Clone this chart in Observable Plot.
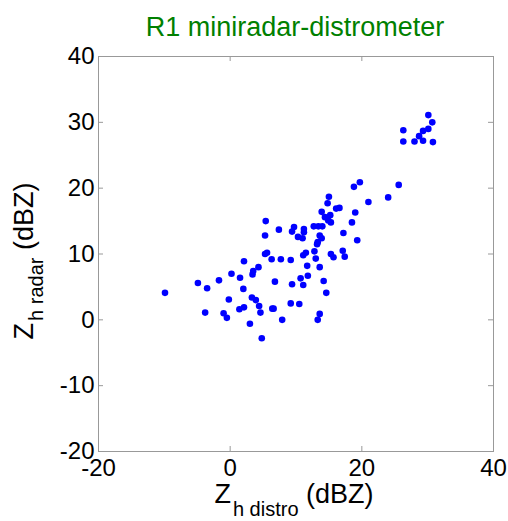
<!DOCTYPE html>
<html><head><meta charset="utf-8">
<script src="https://cdn.jsdelivr.net/npm/d3@7"></script>
<script src="https://cdn.jsdelivr.net/npm/@observablehq/plot@0.6"></script>
<style>body{margin:0;background:#fff;}</style>
</head><body><div id="chart"></div>
<script>
const titleText = "R1 miniradar-distrometer";
const xDistro = [-9.9,-4.9,-3.5,-3.8,-1.7,-1.0,-0.5,-0.2,0.2,1.5,2.1,2.0,1.4,2.1,3.0,3.4,3.5,4.3,3.3,3.9,
  4.4,4.6,4.8,5.4,5.3,5.3,5.6,6.3,6.8,6.4,6.6,7.4,7.7,7.9,9.2,9.4,9.7,9.4,9.2,10.5,
  10.3,11.0,11.2,11.2,11.1,11.5,10.7,11.1,11.7,11.8,12.7,13.4,14.0,12.8,13.0,13.3,13.6,13.9,13.2,13.6,
  14.2,14.6,13.6,13.3,13.9,14.4,14.8,15.0,15.2,15.3,14.9,15.3,15.7,16.1,16.6,17.2,17.1,17.4,18.5,19.0,
  19.3,18.8,19.7,21.0,24.0,25.6,26.3,26.3,28.0,28.7,29.3,29.3,30.1,30.1,30.7,30.8];
const yRadar = [4.1,5.6,4.8,1.1,6.0,1.0,0.3,3.1,7.0,6.4,8.9,4.7,1.6,1.9,-0.6,6.9,7.4,8.0,3.4,3.0,
  2.1,1.1,-2.8,15.0,12.8,10.0,10.2,9.2,5.8,1.7,1.7,13.7,9.2,0.0,9.1,13.4,14.1,5.4,2.5,2.4,
  12.6,12.4,13.8,13.3,9.8,10.2,6.3,5.3,8.2,6.7,14.2,14.2,14.2,10.4,9.3,11.8,12.8,12.4,11.5,8.0,
  5.9,4.1,0.9,0.0,16.4,15.6,17.7,18.7,15.9,14.8,15.1,10.0,9.5,16.9,17.0,13.2,10.5,9.6,14.8,16.3,
  12.1,20.2,20.9,17.9,18.6,20.5,28.8,27.1,27.1,27.9,28.7,27.2,29.0,31.1,30.0,27.0];
const xTicks = [-20, 0, 20, 40];
const yTicks = [-20, -10, 0, 10, 20, 30, 40];

const points = xDistro.map((x, i) => ({x, y: yRadar[i]}));
const W = 508, H = 521, mL = 98, mR = 15, mT = 56, mB = 70;
const innerW = W - mL - mR, innerH = H - mT - mB;
const tickLen = 5;
const axisGray = "#999";
const innerTicks = a => a.slice(1, -1);
const fmt = d => String(d);

const chart = Plot.plot({
  width: W, height: H,
  marginLeft: mL, marginRight: mR, marginTop: mT, marginBottom: mB,
  style: {fontFamily: "'Liberation Sans', Arial, Helvetica, sans-serif", fontSize: "24px", color: "#000", background: "#fff"},
  x: {domain: [-20, 40]},
  y: {domain: [-20, 40]},
  marks: [
    Plot.frame({stroke: axisGray}),
    Plot.tickX(innerTicks(xTicks), {x: d => d, stroke: axisGray, insetTop: innerH - tickLen}),
    Plot.tickX(innerTicks(xTicks), {x: d => d, stroke: axisGray, insetBottom: innerH - tickLen}),
    Plot.tickY(innerTicks(yTicks), {y: d => d, stroke: axisGray, insetRight: innerW - tickLen}),
    Plot.tickY(innerTicks(yTicks), {y: d => d, stroke: axisGray, insetLeft: innerW - tickLen}),
    Plot.axisX({ticks: xTicks, tickFormat: fmt, tickSize: 0, tickPadding: 7, label: null}),
    Plot.axisY({ticks: yTicks, tickFormat: fmt, tickSize: 0, tickPadding: 4, label: null}),
    Plot.dot(points, {x: "x", y: "y", r: 3.3, fill: "#0000ff", stroke: null})
  ]
});
document.getElementById("chart").appendChild(chart);

const svg = d3.select(chart);
const ff = "'Liberation Sans', Arial, Helvetica, sans-serif";
svg.append("text")
  .attr("x", 295).attr("y", 36).attr("text-anchor", "middle")
  .attr("fill", "#008000").style("font-size", "27px").style("font-family", ff)
  .text(titleText);

const xl = svg.append("text")
  .attr("x", 294).attr("y", 503).attr("text-anchor", "middle")
  .attr("fill", "#000").style("font-size", "27px").style("font-family", ff);
xl.append("tspan").text("Z");
xl.append("tspan").attr("dy", 13).attr("dx", 2).style("font-size", "20px").text("h distro");
xl.append("tspan").attr("dy", -13).text(" (dBZ)");

const yl = svg.append("text")
  .attr("transform", "translate(33,261) rotate(-90)").attr("text-anchor", "middle")
  .attr("fill", "#000").style("font-size", "27px").style("font-family", ff);
yl.append("tspan").text("Z");
yl.append("tspan").attr("dy", 10).attr("dx", 2).style("font-size", "20px").text("h radar");
yl.append("tspan").attr("dy", -10).text(" (dBZ)");
</script>
</body></html>
